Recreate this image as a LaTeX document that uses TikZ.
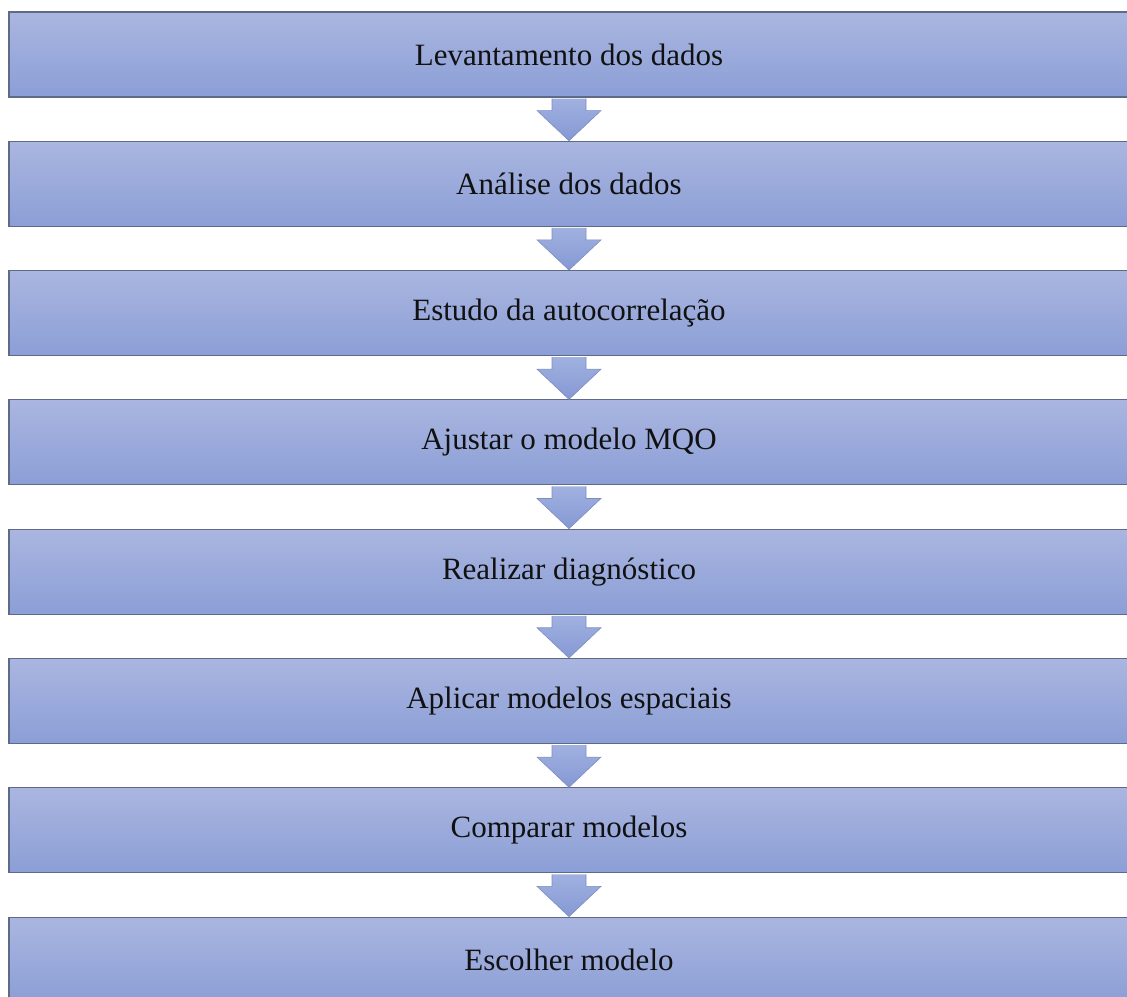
\documentclass[tikz,border=0pt]{standalone}
\usepackage{fontspec}
\setmainfont{Liberation Serif}
\usepackage{xcolor}
\usepackage{tikz}
\usetikzlibrary{calc}
\definecolor{boxtop}{HTML}{AAB6E0}
\definecolor{boxbot}{HTML}{8B9ED6}
\definecolor{boxedge}{HTML}{5E6A86}
\definecolor{arrtop}{HTML}{A0B1E0}
\definecolor{arrbot}{HTML}{8598D3}
\definecolor{arredge}{HTML}{7C8CBF}
\definecolor{ink}{HTML}{111111}

\begin{document}
\begin{tikzpicture}[x=1pt,y=-1pt,
  stepbox/.style={draw=boxedge,line width=1.1pt,top color=boxtop,bottom color=boxbot,
    minimum width=1120pt,minimum height=85pt,inner sep=0pt,text=ink,
    font=\fontsize{31}{37}\selectfont},
  blockarrow/.style={draw=arredge,line width=0.6pt,top color=arrtop,bottom color=arrbot}]
\useasboundingbox (0,0) rectangle (1127,996);
\node[stepbox] (b1) at (569,54.5) {Levantamento dos dados};
\node[stepbox] (b2) at (569,183.8) {Análise dos dados};
\node[stepbox] (b3) at (569,313.1) {Estudo da autocorrelação};
\node[stepbox] (b4) at (569,442.4) {Ajustar o modelo MQO};
\node[stepbox] (b5) at (569,571.7) {Realizar diagnóstico};
\node[stepbox] (b6) at (569,701.0) {Aplicar modelos espaciais};
\node[stepbox] (b7) at (569,830.3) {Comparar modelos};
\node[stepbox] (b8) at (569,959.6) {Escolher modelo};
\foreach \a/\b in {b1/b2,b2/b3,b3/b4,b4/b5,b5/b6,b6/b7,b7/b8}
  \path[blockarrow] ($(\a.south)+(-17,1)$) -- ($(\a.south)+(-17,13)$) -- ($(\a.south)+(-32,13)$)
    -- (\b.north) -- ($(\a.south)+(32,13)$) -- ($(\a.south)+(17,13)$) -- ($(\a.south)+(17,1)$);
\end{tikzpicture}
\end{document}
